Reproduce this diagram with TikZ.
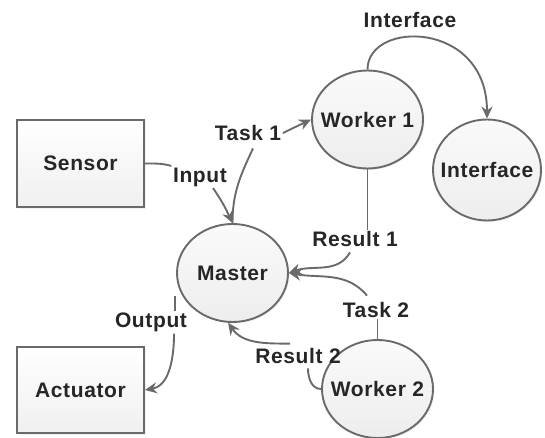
\documentclass[tikz,border=0pt]{standalone}
\usepackage{fontspec}
\setmainfont{Liberation Sans}[LetterSpace=3]
\usetikzlibrary{arrows.meta,shapes.geometric,shadows}
\definecolor{linegray}{HTML}{6A6A6A}
\definecolor{txtgray}{HTML}{262626}
\begin{document}
\begin{tikzpicture}[x=1pt,y=1pt,
  font=\fontsize{21}{24}\selectfont\bfseries, text=txtgray,
  shade/.style={drop shadow={opacity=0.12, shadow xshift=1.5pt, shadow yshift=-1.5pt}},
  box/.style={rectangle, draw=linegray, line width=1.9pt, top color=white, bottom color=gray!12,
    minimum width=127pt, minimum height=87pt, inner sep=0pt, shade},
  proc/.style={ellipse, draw=linegray, line width=1.9pt, top color=gray!4, bottom color=gray!14,
    minimum width=111pt, minimum height=98pt, inner sep=0pt, shade},
  lbl/.style={inner sep=1.5pt},
  conn/.style={draw=linegray, line width=1.9pt},
  arr/.style={conn, -{Stealth[length=12pt,width=11pt]}}]
\useasboundingbox (0,0) rectangle (545,-438);
% nodes
\node[box] (sensor) at (80.5,-163.5) {Sensor};
\node[box, minimum height=86pt] (actuator) at (80.5,-390) {Actuator};
\node[proc] (worker1) at (367.5,-119.5) {\makebox[0pt]{Worker 1}};
\node[proc, minimum width=108pt, minimum height=101pt] (interface) at (487,-170) {\makebox[0pt]{Interface}};
\node[proc] (master) at (232.5,-273) {\makebox[0pt]{Master}};
\node[proc] (worker2) at (377.5,-389) {\makebox[0pt]{Worker 2}};
% labels
\node[lbl] (lIface) at (410,-20) {Interface};
\node[lbl] (lTask1) at (248,-133) {Task 1};
\node[lbl] (lInput) at (200,-177) {Input};
\node[lbl] (lRes1) at (355,-239) {Result 1};
\node[lbl] (lTask2) at (376,-310) {Task 2};
\node[lbl] (lRes2) at (298,-356) {Result 2};
\node[lbl] (lOut) at (151,-322.5) {Output};
\coordinate (oStart) at (175,-296);
% connectors
\draw[conn] (sensor.east) to[out=0,in=165] (lInput.north west);
\draw[arr] ([xshift=13pt]lInput.south) to[out=-55,in=115] (master.north);
\draw[conn] (master.north) to[out=90,in=-115] ([shift={(5pt,-6pt)}]lTask1.south);
\draw[arr] (lTask1.east) -- (worker1.west);
\draw[arr] (worker1.north) .. controls (367.5,-20) and (487,-20) .. (interface.north);
\draw[conn] (worker1.south) -- (worker1.south |- lRes1.north);
\draw[arr] ([shift={(-5pt,-4pt)}]lRes1.south) to[out=-120,in=20] (master.east);
\draw[conn] (worker2.north) -- (worker2.north |- lTask2.south);
\draw[arr] ([shift={(-9pt,5pt)}]lTask2.north) to[out=130,in=-10] (master.east);
\draw[conn] (worker2.west) to[out=180,in=-90] ([shift={(10pt,-3pt)}]lRes2.south);
\draw[arr] ([shift={(-8pt,3pt)}]lRes2.north) to[out=180,in=-55] (master.-95);
\draw[conn] (oStart) -- (oStart |- lOut.north);
\draw[arr] ([xshift=23pt]lOut.south) to[out=-90,in=10] (actuator.east);
\end{tikzpicture}
\end{document}
